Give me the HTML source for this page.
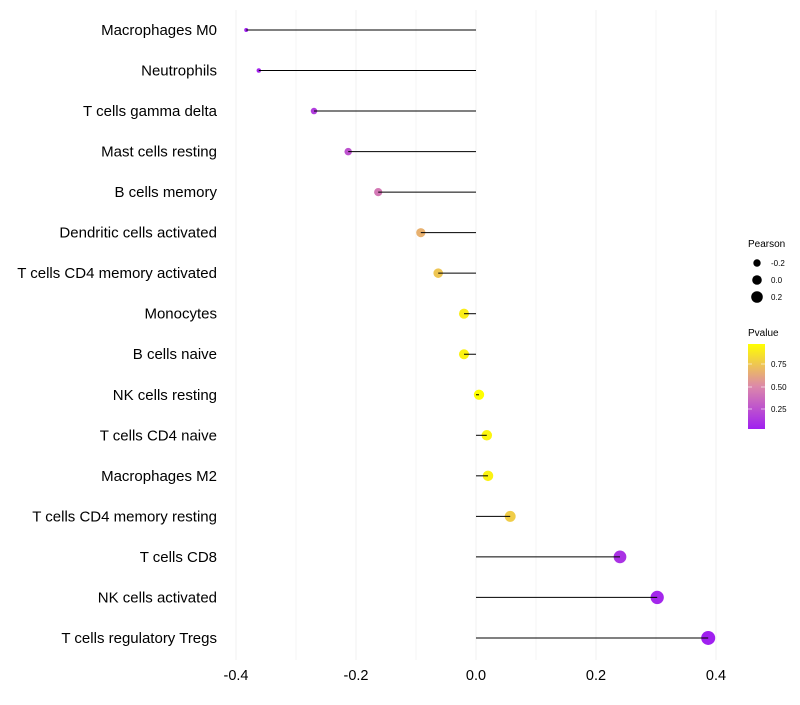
<!DOCTYPE html>
<html><head><meta charset="utf-8"><style>
body{margin:0;background:#fff;font-family:"Liberation Sans",sans-serif;}
svg text{font-family:"Liberation Sans",sans-serif;}
</style></head><body>
<svg id="c" width="800" height="700">
<defs><linearGradient id="pg" x1="0" y1="1" x2="0" y2="0">
<stop offset="0" stop-color="#A020F0"/><stop offset="0.5" stop-color="#DC88AA"/><stop offset="1" stop-color="#FFFF00"/>
</linearGradient></defs>
<g id="grid"></g><g id="marks"></g><g id="axes"></g>
<g>
<text x="748" y="247" font-size="10">Pearson</text>
<circle cx="757" cy="263" r="3.7" fill="#000"/>
<text x="771" y="266" font-size="8">-0.2</text>
<circle cx="757" cy="280" r="4.8" fill="#000"/>
<text x="771" y="283" font-size="8">0.0</text>
<circle cx="757" cy="297" r="5.8" fill="#000"/>
<text x="771" y="300" font-size="8">0.2</text>
<text x="748" y="336" font-size="10">Pvalue</text>
<rect x="748" y="344" width="17" height="85" fill="url(#pg)"/>
<line x1="748" y1="364" x2="752" y2="364" stroke="#fff" opacity="0.6"/><line x1="761" y1="364" x2="765" y2="364" stroke="#fff" opacity="0.6"/>
<line x1="748" y1="387" x2="752" y2="387" stroke="#fff" opacity="0.6"/><line x1="761" y1="387" x2="765" y2="387" stroke="#fff" opacity="0.6"/>
<line x1="748" y1="409" x2="752" y2="409" stroke="#fff" opacity="0.6"/><line x1="761" y1="409" x2="765" y2="409" stroke="#fff" opacity="0.6"/>
<text x="771" y="367" font-size="8">0.75</text>
<text x="771" y="390" font-size="8">0.50</text>
<text x="771" y="412" font-size="8">0.25</text>
</g>
</svg>
<script>
const categories=["Macrophages M0","Neutrophils","T cells gamma delta","Mast cells resting","B cells memory","Dendritic cells activated","T cells CD4 memory activated","Monocytes","B cells naive","NK cells resting","T cells CD4 naive","Macrophages M2","T cells CD4 memory resting","T cells CD8","NK cells activated","T cells regulatory  Tregs"];
const pearson=[-0.383,-0.362,-0.27,-0.213,-0.163,-0.092,-0.063,-0.02,-0.02,0.005,0.018,0.02,0.057,0.24,0.302,0.387];
const pvalue=[0.02,0.04,0.15,0.25,0.42,0.66,0.74,0.9,0.92,0.98,0.93,0.92,0.77,0.1,0.05,0.02];
const xTicks=[-0.4,-0.2,0,0.2,0.4];
const xTickLabels=["-0.4","-0.2","0.0","0.2","0.4"];
const NS="http://www.w3.org/2000/svg";
const x=v=>476+v*600;
const y=i=>30+i*40.53;
const r=v=>Math.sqrt(Math.max(2.5,26.4+58.7*v));
function lerp(a,b,t){return a.map((c,k)=>Math.round(c+(b[k]-c)*t));}
function col(p){const lo=[160,32,240],mid=[220,136,170],hi=[255,255,0];const t=Math.max(0,Math.min(1,(p-0.02)/0.95));const c=t<0.5?lerp(lo,mid,t*2):lerp(mid,hi,(t-0.5)*2);return `rgb(${c})`;}
function mk(tag,attrs,parent){const e=document.createElementNS(NS,tag);for(const k in attrs)e.setAttribute(k,attrs[k]);document.getElementById(parent).appendChild(e);return e;}
const grid=[-0.4,-0.3,-0.2,-0.1,0,0.1,0.2,0.3,0.4];
grid.forEach((g,k)=>{const l=mk('line',{x1:x(g),x2:x(g),y1:10,y2:660,stroke:'#f0f0f0','stroke-width':k%2===0?1:0.6},'grid');

});
categories.forEach((c,i)=>{
const t=mk('text',{x:217,y:y(i)+5,'font-size':15,'text-anchor':'end',fill:'#000'},'axes');t.textContent=c;


const pt=mk('circle',{cx:x(pearson[i]),cy:y(i),r:r(pearson[i]),fill:col(pvalue[i])},'marks');


const ln=mk('line',{x1:x(0),x2:x(pearson[i]),y1:y(i),y2:y(i),stroke:'#000','stroke-width':1},'marks');


});
xTicks.forEach((v,i)=>{const t=mk('text',{x:x(v),y:680,'font-size':14.5,'text-anchor':'middle',fill:'#000'},'axes');t.textContent=xTickLabels[i];

});
</script>
</body></html>
